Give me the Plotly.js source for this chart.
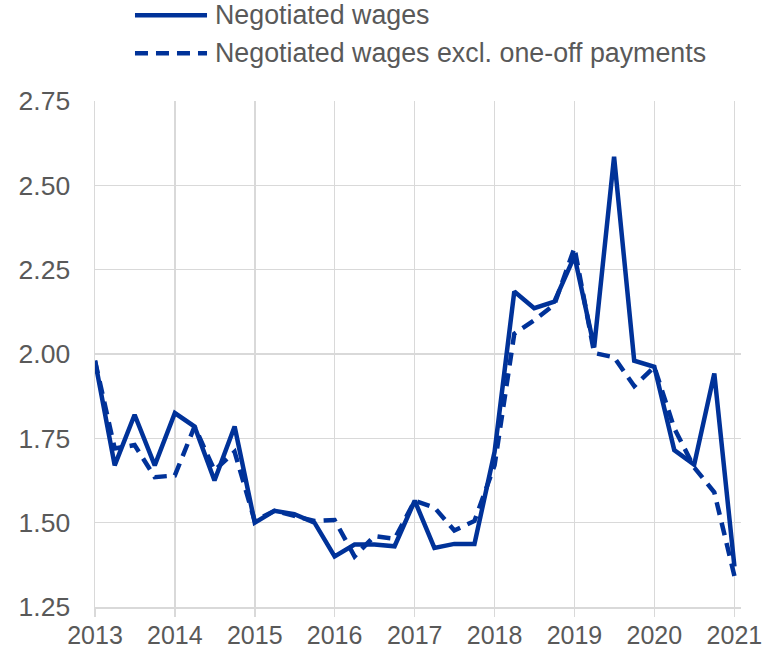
<!DOCTYPE html>
<html>
<head>
<meta charset="utf-8">
<script src="https://cdn.plot.ly/plotly-3.0.1.min.js"></script>
<style>
  html, body { margin: 0; padding: 0; background: #ffffff; }
  #chart { width: 776px; height: 651px; }
</style>
</head>
<body>
<div id="chart"></div>
<script>
// Quarterly periods
const periods = [
  '2013-01-01','2013-04-01','2013-07-01','2013-10-01',
  '2014-01-01','2014-04-01','2014-07-01','2014-10-01',
  '2015-01-01','2015-04-01','2015-07-01','2015-10-01',
  '2016-01-01','2016-04-01','2016-07-01','2016-10-01',
  '2017-01-01','2017-04-01','2017-07-01','2017-10-01',
  '2018-01-01','2018-04-01','2018-07-01','2018-10-01',
  '2019-01-01','2019-04-01','2019-07-01','2019-10-01',
  '2020-01-01','2020-04-01','2020-07-01','2020-10-01',
  '2021-01-01'
];

// Negotiated wages (annual % change)
const negotiatedWages = [
  1.98, 1.67, 1.82, 1.67,
  1.825, 1.785, 1.625, 1.785,
  1.50, 1.535, 1.525, 1.50,
  1.40, 1.435, 1.435, 1.43,
  1.565, 1.425, 1.437, 1.437,
  1.71, 2.185, 2.136, 2.155,
  2.29, 2.02, 2.585, 1.98,
  1.962, 1.715, 1.672, 1.942,
  1.37
];

// Negotiated wages excl. one-off payments
const negotiatedExclOneOff = [
  1.98, 1.72, 1.73, 1.635,
  1.64, 1.785, 1.655, 1.71,
  1.505, 1.535, 1.52, 1.505,
  1.508, 1.40, 1.46, 1.452,
  1.565, 1.545, 1.477, 1.505,
  1.67, 2.06, 2.10, 2.146,
  2.315, 2.003, 1.99, 1.905,
  1.962, 1.78, 1.664, 1.59,
  1.342
];

const seriesNames = ['Negotiated wages', 'Negotiated wages excl. one-off payments'];
const yTicks = [1.25, 1.50, 1.75, 2.00, 2.25, 2.50, 2.75];
const yTickLabels = ['1.25', '1.50', '1.75', '2.00', '2.25', '2.50', '2.75'];
const xTicks = ['2013-01-01','2014-01-01','2015-01-01','2016-01-01','2017-01-01','2018-01-01','2019-01-01','2020-01-01','2021-01-01'];
const xTickLabels = ['2013','2014','2015','2016','2017','2018','2019','2020','2021'];

const blue = '#003299';
const textGrey = '#595959';
const gridGrey = '#d9d9d9';
const fontFamily = 'Liberation Sans, Arial, sans-serif';

const traces = [
  {
    x: periods, y: negotiatedWages, name: seriesNames[0],
    type: 'scatter', mode: 'lines',
    line: { color: blue, width: 4.5 },
    showlegend: false, hoverinfo: 'skip'
  },
  {
    x: periods, y: negotiatedExclOneOff, name: seriesNames[1],
    type: 'scatter', mode: 'lines',
    line: { color: blue, width: 4.5, dash: '13px,8px' },
    showlegend: false, hoverinfo: 'skip'
  }
];

// custom legend (paper coordinates)
const legX0 = 0.0619, legX1 = 0.1734, legTextX = 0.1827;
const legY = [1.1693, 1.0942];

const layout = {
  width: 776, height: 651,
  margin: { l: 95, r: 35, t: 101, b: 44 },
  paper_bgcolor: '#ffffff', plot_bgcolor: '#ffffff',
  font: { family: fontFamily, size: 26, color: textGrey },
  showlegend: false,
  xaxis: {
    type: 'date',
    range: ['2013-01-01', '2021-01-31'],
    tickvals: xTicks, ticktext: xTickLabels,
    showgrid: true, gridcolor: gridGrey, gridwidth: 1.5,
    showline: true, linecolor: gridGrey, linewidth: 2,
    ticks: 'outside', ticklen: 8, tickcolor: gridGrey, tickwidth: 1.5,
    ticklabelstandoff: -3,
    tickfont: { family: fontFamily, size: 25, color: textGrey },
    zeroline: false, fixedrange: true
  },
  yaxis: {
    range: [1.25, 2.75],
    tickvals: yTicks, ticktext: yTickLabels,
    showgrid: true, gridcolor: gridGrey, gridwidth: 1.5,
    showline: true, linecolor: gridGrey, linewidth: 1.5,
    ticks: '', ticklabelstandoff: 18,
    tickfont: { family: fontFamily, size: 26.5, color: textGrey },
    zeroline: false, fixedrange: true
  },
  shapes: [
    { type: 'line', xref: 'paper', yref: 'paper', x0: legX0, x1: legX1, y0: legY[0], y1: legY[0],
      line: { color: blue, width: 4.5 } },
    { type: 'line', xref: 'paper', yref: 'paper', x0: legX0, x1: legX1, y0: legY[1], y1: legY[1],
      line: { color: blue, width: 4.5, dash: '13px,8px' } }
  ],
  annotations: [
    { xref: 'paper', yref: 'paper', x: legTextX, y: legY[0], xanchor: 'left', yanchor: 'middle',
      text: seriesNames[0], showarrow: false, font: { family: fontFamily, size: 26.8, color: textGrey } },
    { xref: 'paper', yref: 'paper', x: legTextX, y: legY[1], xanchor: 'left', yanchor: 'middle',
      text: seriesNames[1], showarrow: false, font: { family: fontFamily, size: 26.8, color: textGrey } }
  ]
};

Plotly.newPlot('chart', traces, layout, { staticPlot: true, displayModeBar: false });
</script>
</body>
</html>
